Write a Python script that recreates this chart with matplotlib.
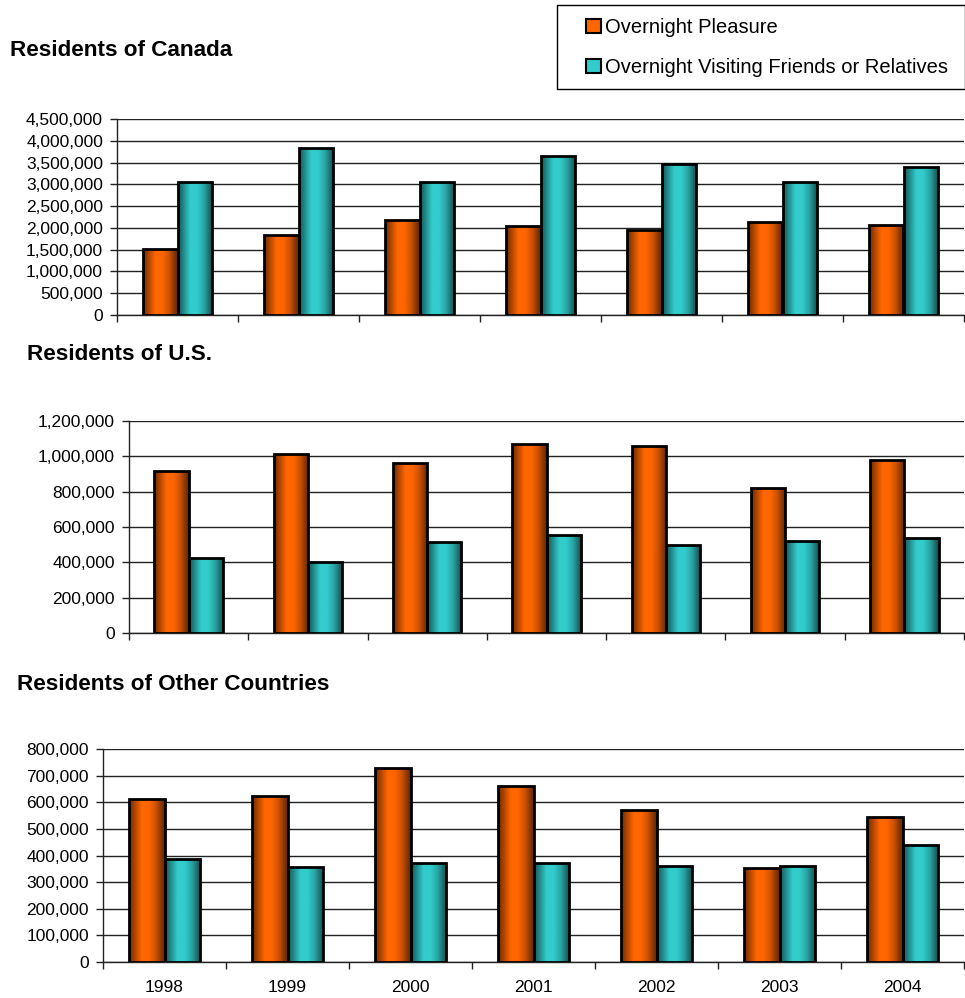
import numpy as np
import matplotlib
matplotlib.use("Agg")
import matplotlib.pyplot as plt
from matplotlib.patches import Patch, Rectangle
from matplotlib.ticker import FuncFormatter, MultipleLocator

plt.rcParams['font.family'] = ['Liberation Sans', 'DejaVu Sans']

years = ["1998", "1999", "2000", "2001", "2002", "2003", "2004"]
series_names = ["Overnight Pleasure", "Overnight Visiting Friends or Relatives"]

canada_pleasure = [1520000, 1830000, 2170000, 2040000, 1960000, 2135000, 2060000]
canada_vfr = [3060000, 3840000, 3050000, 3650000, 3470000, 3050000, 3400000]
us_pleasure = [916000, 1013000, 965000, 1071000, 1060000, 822000, 981000]
us_vfr = [424000, 401000, 517000, 555000, 498000, 521000, 538000]
other_pleasure = [612000, 622000, 728000, 661000, 570000, 352000, 545000]
other_vfr = [385000, 356000, 372000, 370000, 359000, 360000, 441000]

titles = ["Residents of Canada", "Residents of U.S.", "Residents of Other Countries"]

colors = [(1.0, 0.40, 0.0), (0.20, 0.80, 0.80)]

W, H = 965, 998
fig = plt.figure(figsize=(W / 100, H / 100), dpi=100)

def ax_rect(l, r, t, b):
    return [l / W, 1 - b / H, (r - l) / W, (b - t) / H]

panels = [
    dict(rect=ax_rect(117, 964, 119, 315), data=(canada_pleasure, canada_vfr), ymax=4500000, step=500000,
         title=titles[0], tx=10, ty=50),
    dict(rect=ax_rect(129, 964, 421, 633), data=(us_pleasure, us_vfr), ymax=1200000, step=200000,
         title=titles[1], tx=27, ty=354),
    dict(rect=ax_rect(103, 964, 749, 962), data=(other_pleasure, other_vfr), ymax=800000, step=100000,
         title=titles[2], tx=17, ty=685),
]

# gradient profile across bar width
t = np.linspace(0, 1, 80)
prof = np.interp(t, [0.0, 0.12, 0.35, 0.55, 0.75, 0.92, 1.0], [0.42, 0.62, 1.0, 1.0, 0.8, 0.5, 0.38])

def grad_img(c):
    img = np.zeros((2, len(t), 3))
    for k in range(3):
        img[:, :, k] = c[k] * prof
    return np.clip(img, 0, 1)

bw = 0.287
x = np.arange(len(years))
for i, p in enumerate(panels):
    ax = fig.add_axes(p['rect'])
    for s, (vals, c) in enumerate(zip(p['data'], colors)):
        offs = x + (s - 0.5) * bw
        bars = ax.bar(offs, vals, width=bw, color=c, edgecolor='none', zorder=3)
        img = grad_img(c)
        for b in bars:
            x0 = b.get_x(); x1 = x0 + b.get_width(); h = b.get_height()
            im = ax.imshow(img, extent=[x0, x1, 0, h], aspect='auto', zorder=3.5, interpolation='bilinear')
            im.set_clip_path(b)
        ax.bar(offs, vals, width=bw, facecolor='none', edgecolor='black', linewidth=2.0, zorder=4)
    ax.set_xlim(-0.5, len(years) - 0.5)
    ax.set_ylim(0, p['ymax'])
    ax.set_aspect('auto')
    ax.yaxis.set_major_locator(MultipleLocator(p['step']))
    ax.yaxis.set_major_formatter(FuncFormatter(lambda v, pos: f"{int(round(v)):,}"))
    ax.grid(axis='y', color='#222222', linewidth=1.0, zorder=1)
    for g in ax.get_ygridlines()[-1:]:
        g.set_color('#888888')
    ax.spines['right'].set_visible(False)
    ax.spines['top'].set_visible(False)
    ax.spines['left'].set_color('#222222')
    ax.spines['bottom'].set_color('#222222')
    ax.spines['left'].set_linewidth(1.0)
    ax.spines['bottom'].set_linewidth(1.0)
    ax.set_xticks(x)
    ax.set_xticks(np.arange(-0.5, len(years) + 0.5, 1.0), minor=True)
    ax.tick_params(axis='x', which='major', length=0, pad=13)
    ax.tick_params(axis='x', which='minor', length=5, width=1, color='#222222')
    ax.tick_params(axis='y', length=5, width=1, color='#222222', labelsize=12.5, pad=5)
    if i == 2:
        ax.set_xticklabels(years, fontsize=12.5)
    else:
        ax.set_xticklabels([])
    fig.text(p['tx'] / W, 1 - p['ty'] / H, p['title'], fontsize=16.2, fontweight='bold', va='center', ha='left')

# legend frame
fig.patches.append(Rectangle((557 / W, 1 - 89 / H), (W - 557) / W, 84 / H, transform=fig.transFigure,
                             facecolor='white', edgecolor='black', linewidth=1.0, zorder=0))
handles = [Patch(facecolor=c, edgecolor='black', linewidth=1.5) for c in colors]
leg = fig.legend(handles, series_names, loc='center left',
                 bbox_to_anchor=(586 / W, 1 - 47.5 / H), bbox_transform=fig.transFigure,
                 fontsize=14.5, frameon=False,
                 handlelength=0.75, handleheight=0.75, handletextpad=0.2,
                 labelspacing=1.05, borderpad=0, borderaxespad=0)

fig.savefig("out.png", dpi=100)
